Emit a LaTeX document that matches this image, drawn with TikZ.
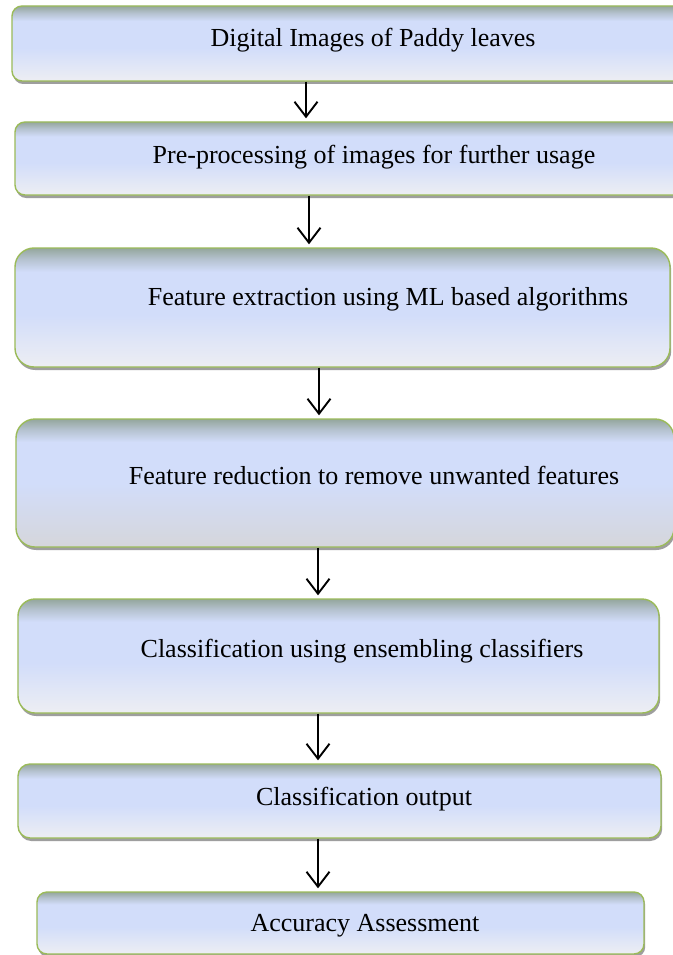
\documentclass[tikz,border=0pt]{standalone}
\usepackage{fontspec}
\setmainfont{Liberation Serif}
\usetikzlibrary{arrows.meta,shadows}
\definecolor{topc}{HTML}{94A69C}
\definecolor{upc}{HTML}{B4C1CE}
\definecolor{midc}{HTML}{D2DDFA}
\definecolor{botc}{HTML}{EDEEF3}
\definecolor{botd}{HTML}{D5D6DB}
\definecolor{bordc}{HTML}{9BBB59}
\pgfdeclareverticalshading{boxshade}{100bp}{color(0bp)=(botc); color(25bp)=(botc); color(47bp)=(midc); color(65bp)=(midc); color(70.5bp)=(upc); color(75bp)=(topc); color(100bp)=(topc)}
\pgfdeclareverticalshading{boxshaded}{100bp}{color(0bp)=(botd); color(25bp)=(botd); color(50bp)=(midc); color(66bp)=(midc); color(71bp)=(upc); color(75bp)=(topc); color(100bp)=(topc)}
\begin{document}
\begin{tikzpicture}[x=1pt,y=-1pt,
  box/.style={rectangle, rounded corners=#1, draw=bordc, line width=1.4pt,
    shading=boxshade, inner sep=0pt,
    drop shadow={shadow xshift=1.2pt, shadow yshift=-3pt, fill=black!38, opacity=1}},
  box/.default=10pt,
  lab/.style={anchor=base, inner sep=0pt, font=\fontsize{26}{30}\selectfont},
  arr/.style={line width=1.9pt, shorten >=3pt,
    -{Straight Barb[length=15pt,width=23pt,line width=1.9pt]}}]
\useasboundingbox (0,0) rectangle (672,955);
\fill[white] (0,0) rectangle (672,955);
% boxes
\node[box=10pt, minimum width=673pt, minimum height=75pt] (b1) at (348.5,43.5) {};
\node[box=10pt, minimum width=673pt, minimum height=73pt] (b2) at (351.5,158.5) {};
\node[box=19pt, minimum width=655pt, minimum height=119pt] (b3) at (342.5,307.5) {};
\node[box=19pt, shading=boxshaded, minimum width=658pt, minimum height=128pt] (b4) at (345,483) {};
\node[box=17pt, minimum width=641pt, minimum height=114pt] (b5) at (338.5,656) {};
\node[box=12pt, minimum width=643pt, minimum height=74pt] (b6) at (339.5,801) {};
\node[box=10pt, minimum width=607pt, minimum height=62pt] (b7) at (340.5,923) {};
% labels
\node[lab] (t1) at (373,46.5) {Digital Images of Paddy leaves};
\node[lab] (t2) at (374,163) {Pre-processing of images for further usage};
\node[lab] (t3) at (388,305.5) {Feature extraction using ML based algorithms};
\node[lab] (t4) at (374,484) {Feature reduction to remove unwanted features};
\node[lab] (t5) at (362,657) {Classification using ensembling classifiers};
\node[lab] (t6) at (364,805) {Classification output};
\node[lab] (t7) at (365,931) {Accuracy Assessment};
% arrow columns
\coordinate (x1) at (306,0);
\coordinate (x2) at (309,0);
\coordinate (x3) at (319,0);
\coordinate (x4) at (318,0);
\draw[arr] (b1.south -| x1) -- (b2.north -| x1);
\draw[arr] (b2.south -| x2) -- (b3.north -| x2);
\draw[arr] (b3.south -| x3) -- (b4.north -| x3);
\draw[arr] (b4.south -| x4) -- (b5.north -| x4);
\draw[arr] (b5.south -| x4) -- (b6.north -| x4);
\draw[arr] (b6.south -| x4) -- (b7.north -| x4);
\end{tikzpicture}
\end{document}
